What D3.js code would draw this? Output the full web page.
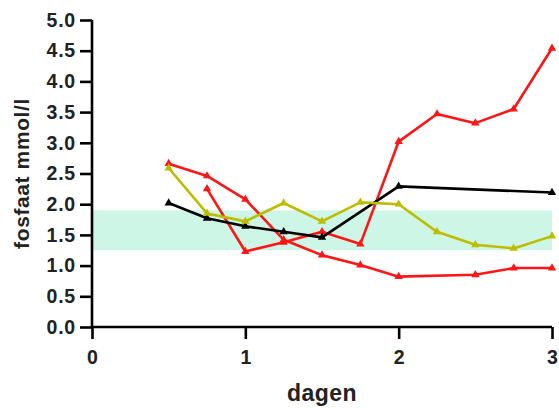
<!DOCTYPE html>
<html>
<head>
<meta charset="utf-8">
<script src="https://cdn.jsdelivr.net/npm/d3@7"></script>
<style>
  body { margin: 0; background: #fff; }
  text { font-family: "Liberation Sans", Arial, sans-serif; font-weight: bold; fill: #222; }
</style>
</head>
<body>
<svg id="chart" width="559" height="408"></svg>
<script>
// data (x in dagen, y in mmol/l)
const redA = [[0.75, 2.25], [1.0, 1.23], [1.25, 1.38], [1.5, 1.55], [1.75, 1.35], [2.0, 3.02], [2.25, 3.47], [2.5, 3.32], [2.75, 3.55], [3.0, 4.54]];
const redB = [[0.5, 2.66], [0.75, 2.46], [1.0, 2.08], [1.25, 1.42], [1.5, 1.17], [1.75, 1.01], [2.0, 0.82], [2.5, 0.85], [2.75, 0.96], [3.0, 0.96]];
const black = [[0.5, 2.02], [0.75, 1.77], [1.0, 1.64], [1.25, 1.55], [1.5, 1.46], [2.0, 2.29], [3.0, 2.19]];
const olive = [[0.5, 2.59], [0.75, 1.85], [1.0, 1.72], [1.25, 2.02], [1.5, 1.72], [1.75, 2.03], [2.0, 2.0], [2.25, 1.55], [2.5, 1.34], [2.75, 1.28], [3.0, 1.48]];
const normalRange = [1.25, 1.9];
const xTicks = [0, 1, 2, 3];
const yTicks = [0, 0.5, 1, 1.5, 2, 2.5, 3, 3.5, 4, 4.5, 5];

const series = [
  {data: redA, color: "#ff1515"},
  {data: redB, color: "#ff1515"},
  {data: black, color: "#000000"},
  {data: olive, color: "#bdbd00"}
];

const svg = d3.select("#chart");
const mLeft = 92, mRight = 552, mTop = 20, mBottom = 327;

const x = d3.scaleLinear().domain([0, 3]).range([mLeft, mRight]);
const y = d3.scaleLinear().domain([0, 5]).range([mBottom, mTop]);

// normal range band
svg.append("rect")
  .attr("x", x(0))
  .attr("y", y(normalRange[1]))
  .attr("width", x(3) - x(0))
  .attr("height", y(normalRange[0]) - y(normalRange[1]))
  .attr("fill", "#cef6e6");

const line = d3.line().x(d => x(d[0])).y(d => y(d[1]));
const tri = d3.symbol().type(d3.symbolTriangle).size(30);

series.forEach(s => {
  svg.append("path")
    .datum(s.data)
    .attr("d", line)
    .attr("fill", "none")
    .attr("stroke", s.color)
    .attr("stroke-width", 2.6)
    .attr("stroke-linejoin", "round");
  svg.selectAll(null)
    .data(s.data)
    .enter().append("path")
    .attr("d", tri)
    .attr("transform", d => `translate(${x(d[0])},${y(d[1])})`)
    .attr("fill", s.color);
});

// axes
const yAxis = svg.append("g")
  .attr("transform", `translate(${mLeft},0)`)
  .call(d3.axisLeft(y).tickValues(yTicks).tickFormat(d3.format(".1f")).tickSize(12).tickPadding(4));
const xAxis = svg.append("g")
  .attr("transform", `translate(0,${mBottom})`)
  .call(d3.axisBottom(x).tickValues(xTicks).tickFormat(d3.format("d")).tickSize(12).tickPadding(11));

[yAxis, xAxis].forEach(g => {
  g.select(".domain").attr("stroke", "#000").attr("stroke-width", 2.6);
  g.selectAll(".tick line").attr("stroke", "#000").attr("stroke-width", 2.6);
  g.selectAll(".tick text").attr("font-size", 19.5).attr("fill", "#222")
    .style("font-family", "'Liberation Sans', Arial, sans-serif").style("font-weight", "bold");
});
yAxis.selectAll(".tick text").style("letter-spacing", "0.8px");
yAxis.select(".domain").attr("d", `M0,${mTop}V${mBottom}`);
xAxis.select(".domain").attr("d", `M${mLeft},0H${mRight}`);

svg.append("text")
  .attr("transform", `translate(29,${(mTop + mBottom) / 2}) rotate(-90)`)
  .attr("text-anchor", "middle")
  .attr("font-size", 21)
  .style("letter-spacing", "0.6px")
  .text("fosfaat mmol/l");

svg.append("text")
  .attr("x", (mLeft + mRight) / 2)
  .attr("y", 401)
  .attr("text-anchor", "middle")
  .attr("font-size", 23)
  .style("letter-spacing", "0.5px")
  .text("dagen");
</script>
</body>
</html>
